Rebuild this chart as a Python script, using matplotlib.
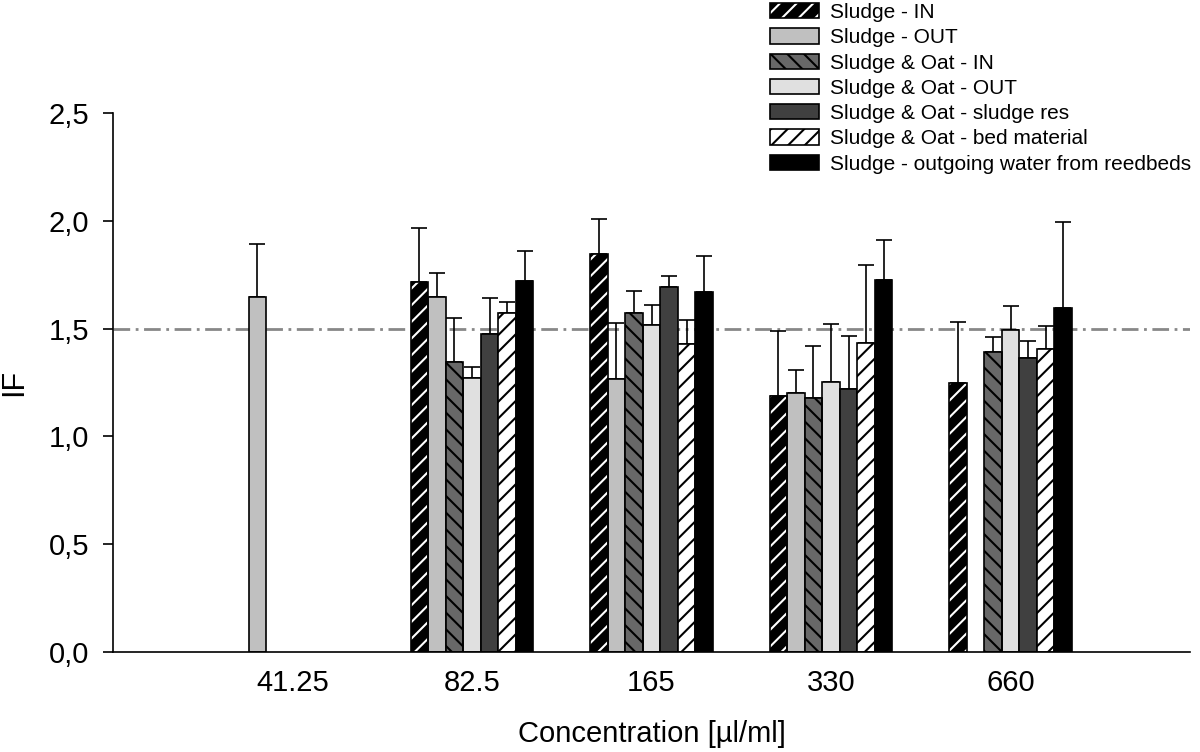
import numpy as np
import matplotlib.pyplot as plt
import matplotlib.patches as mpatches
from matplotlib.legend_handler import HandlerTuple

plt.rcParams['font.family'] = ['Liberation Sans', 'DejaVu Sans']
plt.rcParams['hatch.linewidth'] = 1.5

nan = np.nan
categories = ['41.25', '82.5', '165', '330', '660']

# mean IF values per concentration
sludge_in = [nan, 1.718, 1.846, 1.189, 1.249]
sludge_out = [1.648, 1.648, 1.265, 1.200, nan]
oat_in = [nan, 1.344, 1.574, 1.177, 1.390]
oat_out = [nan, 1.272, 1.517, 1.254, 1.493]
oat_res = [nan, 1.475, 1.693, 1.221, 1.362]
oat_bed = [nan, 1.571, 1.429, 1.435, 1.407]
outgoing = [nan, 1.722, 1.668, 1.725, 1.595]

# upper error bars
sludge_in_err = [nan, 0.247, 0.161, 0.300, 0.280]
sludge_out_err = [0.243, 0.108, 0.260, 0.108, nan]
oat_in_err = [nan, 0.207, 0.102, 0.244, 0.070]
oat_out_err = [nan, 0.050, 0.093, 0.266, 0.112]
oat_res_err = [nan, 0.165, 0.052, 0.246, 0.082]
oat_bed_err = [nan, 0.054, 0.111, 0.360, 0.106]
outgoing_err = [nan, 0.139, 0.170, 0.186, 0.399]

labels = ['Sludge - IN', 'Sludge - OUT', 'Sludge & Oat - IN', 'Sludge & Oat - OUT',
          'Sludge & Oat - sludge res', 'Sludge & Oat - bed material',
          'Sludge - outgoing water from reedbeds']
series = [sludge_in, sludge_out, oat_in, oat_out, oat_res, oat_bed, outgoing]
errors = [sludge_in_err, sludge_out_err, oat_in_err, oat_out_err, oat_res_err,
          oat_bed_err, outgoing_err]
# (face, hatch, hatch colour)
styles = [('black', '//', 'white'),
          ('#c0c0c0', '', None),
          ('#686868', '\\\\', 'black'),
          ('#e0e0e0', '', None),
          ('#404040', '', None),
          ('white', '//', 'black'),
          ('black', '', None)]

fig = plt.figure(figsize=(12, 7.52), dpi=100)
ax = fig.add_axes([113 / 1200, 1 - 652 / 752, (1190 - 113) / 1200, (652 - 113) / 752])

x = np.arange(1, len(categories) + 1)
w = 0.0975
lw = 1.2
handles = []
for i, (vals, err, (fc, hatch, hc)) in enumerate(zip(series, errors, styles)):
    xi = x + (i - 3) * w
    vals = np.array(vals)
    if hatch:
        ax.bar(xi, vals, w, color=fc, edgecolor=hc, hatch=hatch, linewidth=0, zorder=2)
        ax.bar(xi, vals, w, fill=False, edgecolor='black', linewidth=lw, zorder=2.1)
        h = (mpatches.Patch(facecolor=fc, edgecolor=hc, hatch=hatch, linewidth=0),
             mpatches.Patch(fill=False, edgecolor='black', linewidth=lw))
    else:
        ax.bar(xi, vals, w, color=fc, edgecolor='black', linewidth=lw, zorder=2)
        h = mpatches.Patch(facecolor=fc, edgecolor='black', linewidth=lw)
    handles.append(h)
    err = np.array(err)
    ax.errorbar(xi, vals, yerr=[np.zeros_like(err), err], fmt='none', ecolor='black',
                elinewidth=lw, capsize=5.5, capthick=lw, zorder=1.5)

ax.axhline(1.5, color='#888888', linewidth=2, dashes=(6, 2, 1, 2), zorder=1)

ax.set_xlim(0, 6)
ax.set_ylim(0, 2.5)
ax.set_yticks([0, 0.5, 1.0, 1.5, 2.0, 2.5])
ax.set_yticklabels(['0,0', '0,5', '1,0', '1,5', '2,0', '2,5'], fontsize=21)
ax.set_xticks(x)
ax.set_xticklabels(categories, fontsize=21)
ax.tick_params(axis='x', length=0, pad=12)
ax.tick_params(axis='y', length=7, width=1.2, pad=10, direction='out')
for s in ['top', 'right']:
    ax.spines[s].set_visible(False)
for s in ['left', 'bottom']:
    ax.spines[s].set_linewidth(1.2)

ax.set_xlabel('Concentration [µl/ml]', fontsize=21, labelpad=17)
ax.set_ylabel('IF', fontsize=22, labelpad=14)

fig.legend(handles, labels, loc='upper left', bbox_to_anchor=(768 / 1200, 1 - 1 / 752),
           frameon=False, fontsize=15, handlelength=2.35, handleheight=0.75,
           handletextpad=0.55, labelspacing=0.3, borderpad=0.1, borderaxespad=0,
           handler_map={tuple: HandlerTuple(ndivide=1, pad=0)})

fig.savefig('out.png', dpi=100)
